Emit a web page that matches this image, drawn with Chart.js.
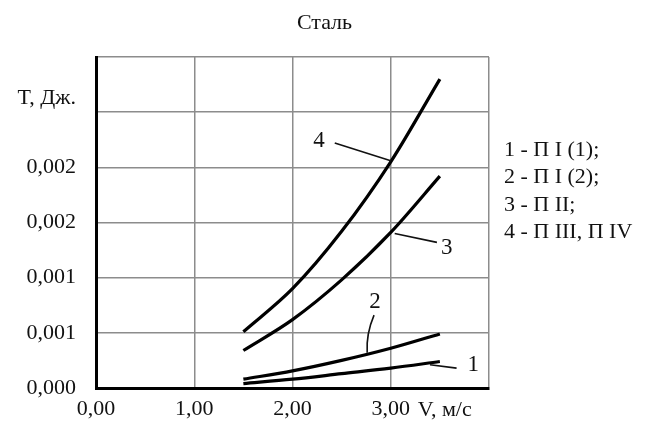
<!DOCTYPE html>
<html><head><meta charset="utf-8">
<script src="https://cdn.jsdelivr.net/npm/chart.js@4/dist/chart.umd.min.js"></script>
<style>html,body{margin:0;padding:0;background:#fff}#wrap{width:651px;height:430px;position:relative}</style>
</head><body><div id="wrap"><canvas id="c"></canvas></div>
<script>
// ---- data ----
const speedV = [1.5, 2.0, 2.5, 3.0, 3.5];
const curve1 = [0.00004, 0.00008, 0.00013, 0.00018, 0.00024];
const curve2 = [0.00008, 0.000155, 0.00025, 0.00036, 0.00049];
const curve3 = [0.00034, 0.00062, 0.00098, 0.00141, 0.00192];
const curve4 = [0.00051, 0.0009, 0.00142, 0.00205, 0.0028];
const xTickLabels = ['0,00', '1,00', '2,00', '3,00', ''];
const yTickLabels = ['0,000', '0,001', '0,001', '0,002', '0,002', '', ''];
const legendLines = ['1 - П I (1);', '2 - П I (2);', '3 - П II;', '4 - П III, П IV'];
const chartTitle = 'Сталь';
const yAxisTitle = 'T, Дж.';
const xAxisTitle = 'V, м/с';
// curve labels: [text, labelX, labelY, leaderFromX, leaderFromY, leaderToX, leaderToY]
const curveLabels = [
  ['4', 2.27, 0.00224, 2.43, 0.00222, 3.0, 0.00206],
  ['3', 3.57, 0.00127, 3.47, 0.00132, 3.04, 0.0014],
  ['2', 2.84, 0.00078, 2.83, 0.00066, 2.76, 0.00032],
  ['1', 3.84, 0.00021, 3.67, 0.00018, 3.40, 0.00021]
];

const serif = '"Liberation Serif", "DejaVu Serif", serif';
const toPts = arr => arr.map((v, i) => ({x: speedV[i], y: v}));
const mkSet = (label, arr) => ({
  label, data: toPts(arr), borderColor: '#000', borderWidth: 3.2,
  pointRadius: 0, fill: false, tension: 0.4, cubicInterpolationMode: 'monotone'
});

const overlay = {
  id: 'overlay',
  afterDatasetsDraw(chart) {
    const ctx = chart.ctx, xs = chart.scales.x, ys = chart.scales.y;
    ctx.save();
    ctx.fillStyle = '#111';
    ctx.textBaseline = 'middle';
    // title
    ctx.font = '22px ' + serif;
    ctx.textAlign = 'center';
    ctx.fillText(chartTitle, (xs.left + xs.right) / 2 + 32, 23);
    // y axis title
    ctx.textAlign = 'right';
    ctx.fillText(yAxisTitle, xs.left - 20, 98);
    // x axis title
    ctx.textAlign = 'center';
    ctx.fillText(xAxisTitle, xs.getPixelForValue(3.55), ys.bottom + 22);
    // legend
    ctx.textAlign = 'left';
    legendLines.forEach((t, i) => ctx.fillText(t, xs.right + 15, 150 + i * 27.5));
    // curve labels and leaders
    ctx.font = '23px ' + serif;
    ctx.textAlign = 'center';
    ctx.strokeStyle = '#111';
    ctx.lineWidth = 1.6;
    curveLabels.forEach(([t, lx, ly, fx, fy, tx, ty]) => {
      ctx.fillText(t, xs.getPixelForValue(lx), ys.getPixelForValue(ly));
      ctx.beginPath();
      const x0 = xs.getPixelForValue(fx), y0 = ys.getPixelForValue(fy);
      const x1 = xs.getPixelForValue(tx), y1 = ys.getPixelForValue(ty);
      ctx.moveTo(x0, y0);
      if (t === '2') ctx.quadraticCurveTo(x0 - 8, (y0 + y1) / 2, x1, y1);
      else ctx.lineTo(x1, y1);
      ctx.stroke();
    });
    ctx.restore();
  }
};

new Chart(document.getElementById('c'), {
  type: 'line',
  data: { datasets: [mkSet('1', curve1), mkSet('2', curve2), mkSet('3', curve3), mkSet('4', curve4)] },
  options: {
    responsive: true, maintainAspectRatio: false, animation: false,
    layout: { padding: { left: 0, right: 162, top: 57, bottom: 0 } },
    plugins: { legend: { display: false }, title: { display: false }, tooltip: { enabled: false } },
    scales: {
      x: {
        type: 'linear', min: 0, max: 4,
        ticks: { stepSize: 1, color: '#111', padding: 8, maxRotation: 0,
          font: { family: serif, size: 22 },
          callback: (v, i) => xTickLabels[i] },
        grid: { color: '#8c8c8c', lineWidth: 1.5, drawTicks: false },
        border: { color: '#000', width: 3 },
        afterFit: s => { s.height = 42; }
      },
      y: {
        type: 'linear', min: 0, max: 0.003,
        ticks: { stepSize: 0.0005, color: '#111', padding: 20,
          font: { family: serif, size: 22 },
          callback: (v, i) => yTickLabels[i] },
        grid: { color: '#8c8c8c', lineWidth: 1.5, drawTicks: false },
        border: { color: '#000', width: 3 },
        afterFit: s => { s.width = 96; }
      }
    }
  },
  plugins: [overlay]
});
</script></body></html>
